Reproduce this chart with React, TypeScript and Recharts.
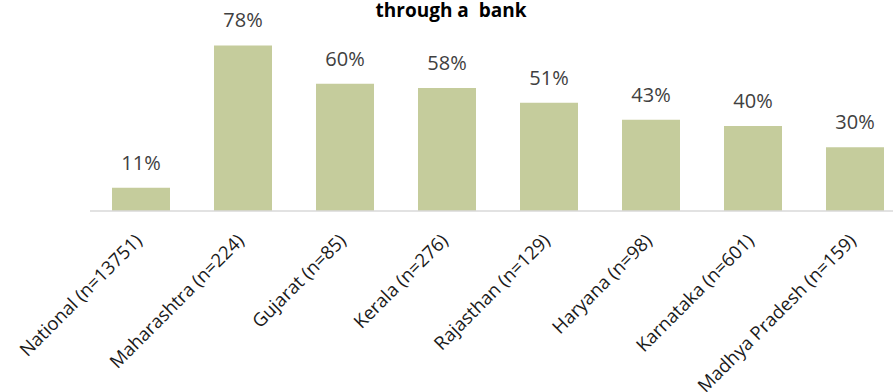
import { Bar, BarChart, LabelList, XAxis, YAxis } from "recharts";

const regions = [
  "National (n=13751)",
  "Maharashtra (n=224)",
  "Gujarat (n=85)",
  "Kerala (n=276)",
  "Rajasthan (n=129)",
  "Haryana (n=98)",
  "Karnataka (n=601)",
  "Madhya Pradesh (n=159)"
];
const shares = [11, 78, 60, 58, 51, 43, 40, 30];

const data = regions.map((region, i) => ({ region, share: shares[i] }));

const FONT = "'Open Sans', sans-serif";

function RegionTick(props: any) {
  const { x, y, payload } = props;
  const tx = x + 2;
  const ty = y + 23;
  return (
    <text
      x={tx}
      y={ty}
      transform={`rotate(-45, ${tx}, ${ty})`}
      textAnchor="end"
      fontSize={18.5}
      fontFamily={FONT}
      fill="#1a1a1a"
    >
      {payload.value}
    </text>
  );
}

function ShareLabel(props: any) {
  const { x, y, width, value } = props;
  return (
    <text
      x={x + width / 2}
      y={y - 18}
      textAnchor="middle"
      fontSize={20}
      fontFamily={FONT}
      fill="#404040"
    >
      {`${value}%`}
    </text>
  );
}

export default function App() {
  return (
    <div
      style={{
        position: "absolute",
        left: 0,
        top: 0,
        width: 893,
        height: 392,
        overflow: "hidden",
        background: "#fff"
      }}
    >
      <BarChart
        width={906}
        height={392}
        data={data}
        barCategoryGap={22}
        margin={{ top: 20, right: 0, bottom: 0, left: 90 }}
      >
        <text
          x={451}
          y={17}
          textAnchor="middle"
          fontSize={19}
          fontWeight="bold"
          fontFamily={FONT}
          fill="#000"
          style={{ whiteSpace: "pre" }}
        >
          {"through a  bank"}
        </text>
        <YAxis hide domain={[0, 90]} />
        <XAxis
          dataKey="region"
          interval={0}
          height={181}
          tickLine={false}
          axisLine={{ stroke: "#d9d9d9", strokeWidth: 1.5 }}
          tick={<RegionTick />}
        />
        <Bar dataKey="share" fill="#c5cc9c" isAnimationActive={false}>
          <LabelList dataKey="share" content={<ShareLabel />} />
        </Bar>
      </BarChart>
    </div>
  );
}
